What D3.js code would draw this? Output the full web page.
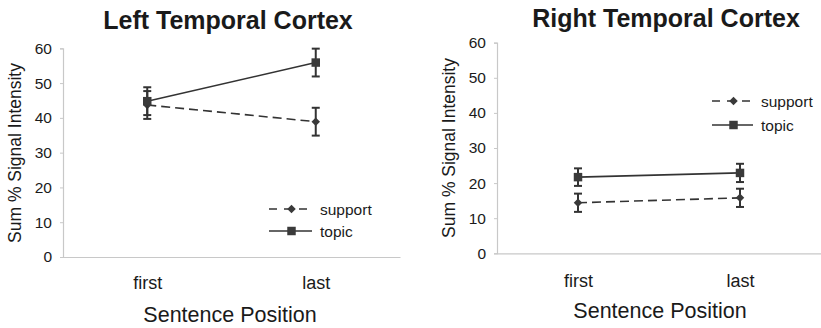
<!DOCTYPE html>
<html><head><meta charset="utf-8">
<script src="https://cdn.jsdelivr.net/npm/d3@7"></script>
<style>
body{margin:0;background:#fff;}
text{font-family:"Liberation Sans",Arial,sans-serif;fill:#1a1a1a;}
</style></head>
<body><svg id="c" width="821" height="328"></svg>
<script>
const categories = ["first", "last"];
const yTicks = [0, 10, 20, 30, 40, 50, 60];
const seriesNames = ["support", "topic"];
const leftSupport = [43.7, 38.9];
const leftSupportErr = [4.0, 4.0];
const leftTopic = [44.8, 55.9];
const leftTopicErr = [4.0, 4.0];
const rightSupport = [14.4, 15.8];
const rightSupportErr = [2.6, 2.6];
const rightTopic = [21.7, 22.9];
const rightTopicErr = [2.5, 2.6];

const svg = d3.select("#c");
const lineCol = "#333";
const markCol = "#3a3a3a";
const axisCol = "#c8c8c8";

function panel(o) {
  const g = svg.append("g");
  const x = d3.scalePoint().domain(categories).range([o.x0, o.x1]).padding(0.5);
  const y = d3.scaleLinear().domain([0, 60]).range([o.yb, o.yt]);

  const ya = g.append("g").attr("transform", `translate(${o.x0},0)`)
    .call(d3.axisLeft(y).tickValues(yTicks).tickSize(3).tickPadding(8).tickSizeOuter(3));
  ya.select(".domain").attr("stroke", axisCol).attr("stroke-width", 1.2);
  ya.selectAll(".tick line").attr("stroke", axisCol);
  ya.selectAll(".tick text").attr("font-size", 15.5).attr("fill", "#1a1a1a")
    .attr("font-family", "Liberation Sans, Arial, sans-serif");

  const xa = g.append("g").attr("transform", `translate(0,${o.yb})`)
    .call(d3.axisBottom(x).tickSize(0).tickPadding(0));
  xa.select(".domain").attr("stroke", axisCol).attr("stroke-width", 1.2);
  xa.selectAll(".tick text").attr("font-size", 18).attr("fill", "#1a1a1a")
    .attr("font-family", "Liberation Sans, Arial, sans-serif")
    .attr("y", o.catDy).attr("dy", "0.35em");

  g.append("text").attr("x", o.tx).attr("y", o.ty).attr("text-anchor", "middle")
    .attr("dominant-baseline", "central")
    .attr("font-size", 25).attr("font-weight", "bold").text(o.title);
  g.append("text").attr("x", o.xtx).attr("y", o.xty).attr("text-anchor", "middle")
    .attr("dominant-baseline", "central").attr("font-size", 21.5).text("Sentence Position");
  g.append("text").attr("transform", `translate(${o.ytx},${o.yty}) rotate(-90)`)
    .attr("text-anchor", "middle").attr("dominant-baseline", "central")
    .attr("font-size", 17.5).text("Sum % Signal Intensity");

  const series = [
    {name: "support", vals: o.support, err: o.supportErr, dash: "9,5", shape: "diamond"},
    {name: "topic", vals: o.topic, err: o.topicErr, dash: null, shape: "square"}
  ];
  const line = d3.line().x((d, i) => x(categories[i])).y(d => y(d));
  const sym = s => s === "diamond"
    ? d3.symbol().type(d3.symbolSquare).size(36)()
    : d3.symbol().type(d3.symbolSquare).size(72)();
  const rot = s => s === "diamond" ? " rotate(45)" : "";

  series.forEach(s => {
    g.append("path").datum(s.vals).attr("d", line).attr("fill", "none")
      .attr("stroke", lineCol).attr("stroke-width", 1.6)
      .attr("stroke-dasharray", s.dash);
    const eg = g.append("g");
    s.vals.forEach((v, i) => {
      const cx = x(categories[i]);
      const y1 = y(v + s.err[i]), y2 = y(v - s.err[i]);
      eg.append("line").attr("x1", cx).attr("x2", cx).attr("y1", y1).attr("y2", y2)
        .attr("stroke", lineCol).attr("stroke-width", 2);
      [y1, y2].forEach(yy => eg.append("line").attr("x1", cx - 4).attr("x2", cx + 4)
        .attr("y1", yy).attr("y2", yy).attr("stroke", lineCol).attr("stroke-width", 2));
      eg.append("path").attr("d", sym(s.shape)).attr("transform", `translate(${cx},${y(v)})${rot(s.shape)}`)
        .attr("fill", markCol);
    });
  });

  const lg = g.append("g");
  series.forEach((s, i) => {
    const ly = o.legY[i];
    lg.append("line").attr("x1", o.legX0).attr("x2", o.legX1).attr("y1", ly).attr("y2", ly)
      .attr("stroke", lineCol).attr("stroke-width", 1.6)
      .attr("stroke-dasharray", s.dash ? "8,7" : null);
    lg.append("path").attr("d", sym(s.shape))
      .attr("transform", `translate(${(o.legX0 + o.legX1) / 2 + 1},${ly})${rot(s.shape)}`).attr("fill", markCol);
    lg.append("text").attr("x", o.legX1 + 8).attr("y", ly).attr("dominant-baseline", "central")
      .attr("font-size", 15.5).text(seriesNames[i]);
  });
}

panel({
  x0: 63, x1: 400, yb: 257, yt: 48.3,
  support: leftSupport, supportErr: leftSupportErr, topic: leftTopic, topicErr: leftTopicErr,
  title: "Left Temporal Cortex", tx: 228, ty: 20,
  xtx: 230, xty: 315, ytx: 15, yty: 153, catDy: 26,
  legX0: 269, legX1: 312, legY: [209, 231]
});
panel({
  x0: 497, x1: 821, yb: 253.3, yt: 42.7,
  support: rightSupport, supportErr: rightSupportErr, topic: rightTopic, topicErr: rightTopicErr,
  title: "Right Temporal Cortex", tx: 666, ty: 18,
  xtx: 660, xty: 311, ytx: 449, yty: 148, catDy: 27,
  legX0: 712, legX1: 753, legY: [101, 125]
});
</script></body></html>
